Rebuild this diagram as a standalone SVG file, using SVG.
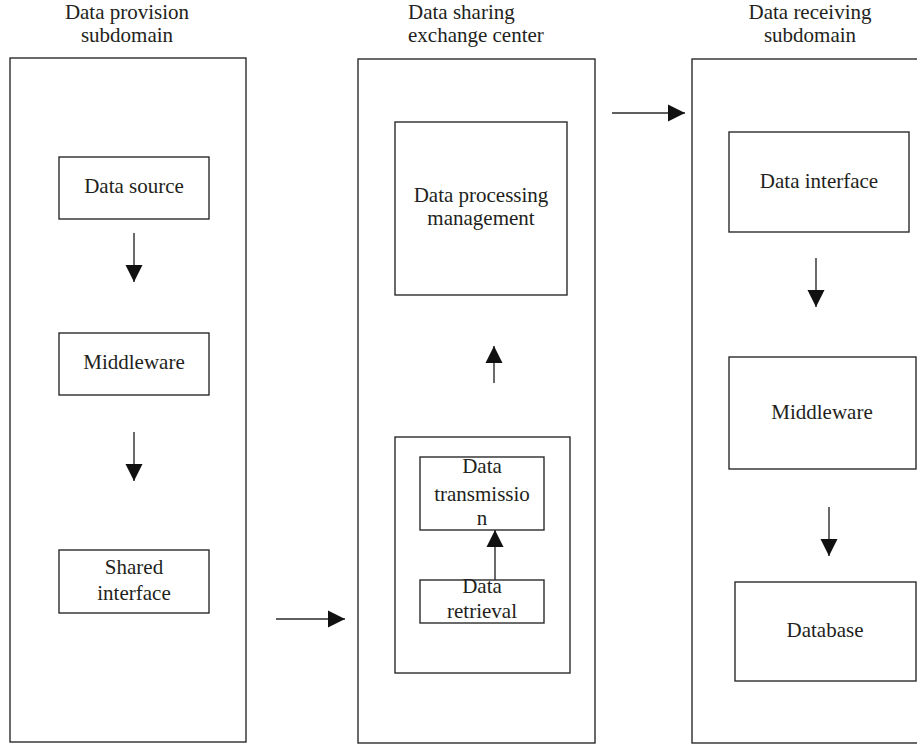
<svg xmlns="http://www.w3.org/2000/svg" width="917" height="747" viewBox="0 0 917 747">
<style>
.box{fill:none;stroke:#2b2b2b;stroke-width:1.4}
.t{font-family:"Liberation Serif","Times New Roman",serif;font-size:21px;fill:#231f20;text-anchor:middle}
.ts{font-family:"Liberation Serif","Times New Roman",serif;font-size:21px;fill:#231f20;text-anchor:start}
.c{stroke:#2b2b2b;stroke-width:1.4;fill:none;marker-end:url(#ah)}
</style>
<defs>
<marker id="ah" markerUnits="userSpaceOnUse" markerWidth="18" markerHeight="18" refX="17" refY="8.5" orient="auto" viewBox="0 0 18 17">
<path d="M0,0 L17,8.5 L0,17 z" fill="#111"/>
</marker>
</defs>
<rect width="917" height="747" fill="#fff"/>
<g id="provision">
<rect class="box" x="10" y="58" width="236" height="684"/>
<text class="t" x="127" y="19">Data provision</text>
<text class="t" x="127" y="42">subdomain</text>
</g>
<g id="data-source">
<rect class="box" x="59" y="157" width="150" height="62"/>
<text class="t" x="134" y="193">Data source</text>
</g>
<g id="middleware-left">
<rect class="box" x="59" y="333" width="150" height="62"/>
<text class="t" x="134" y="369">Middleware</text>
</g>
<g id="shared-interface">
<rect class="box" x="59" y="550" width="150" height="63"/>
<text class="t" x="134" y="574">Shared</text>
<text class="t" x="134" y="600">interface</text>
</g>
<g id="center">
<rect class="box" x="358" y="59" width="237" height="684"/>
<text class="ts" x="408" y="19">Data sharing</text>
<text class="ts" x="408" y="42">exchange center</text>
</g>
<g id="processing">
<rect class="box" x="395" y="122" width="172" height="173"/>
<text class="t" x="481" y="202">Data processing</text>
<text class="t" x="481" y="225">management</text>
</g>
<g id="transfer-group">
<rect class="box" x="395" y="437" width="175" height="236"/>
</g>
<g id="transmission">
<rect class="box" x="420" y="457" width="124" height="73"/>
<text class="t" x="482" y="473">Data</text>
<text class="t" x="482" y="501">transmissio</text>
<text class="t" x="482" y="525">n</text>
</g>
<g id="retrieval">
<rect class="box" x="420" y="580" width="124" height="43"/>
<text class="t" x="482" y="593">Data</text>
<text class="t" x="482" y="618">retrieval</text>
</g>
<g id="receiving">
<rect class="box" x="692" y="59" width="240" height="684"/>
<text class="t" x="810" y="19">Data receiving</text>
<text class="t" x="810" y="42">subdomain</text>
</g>
<g id="data-interface">
<rect class="box" x="729" y="132" width="180" height="100"/>
<text class="t" x="819" y="188">Data interface</text>
</g>
<g id="middleware-right">
<rect class="box" x="729" y="357" width="187" height="112"/>
<text class="t" x="822" y="419">Middleware</text>
</g>
<g id="database">
<rect class="box" x="735" y="582" width="181" height="99"/>
<text class="t" x="825" y="637">Database</text>
</g>
<g id="connectors">
<line class="c" x1="134" y1="233" x2="134" y2="282"/>
<line class="c" x1="134" y1="432" x2="134" y2="481"/>
<line class="c" x1="494" y1="383" x2="494" y2="346"/>
<line class="c" x1="495" y1="580" x2="495" y2="530"/>
<line class="c" x1="276" y1="619" x2="345" y2="619"/>
<line class="c" x1="612" y1="113" x2="685" y2="113"/>
<line class="c" x1="816" y1="258" x2="816" y2="307"/>
<line class="c" x1="829" y1="507" x2="829" y2="556"/>
</g>
</svg>
